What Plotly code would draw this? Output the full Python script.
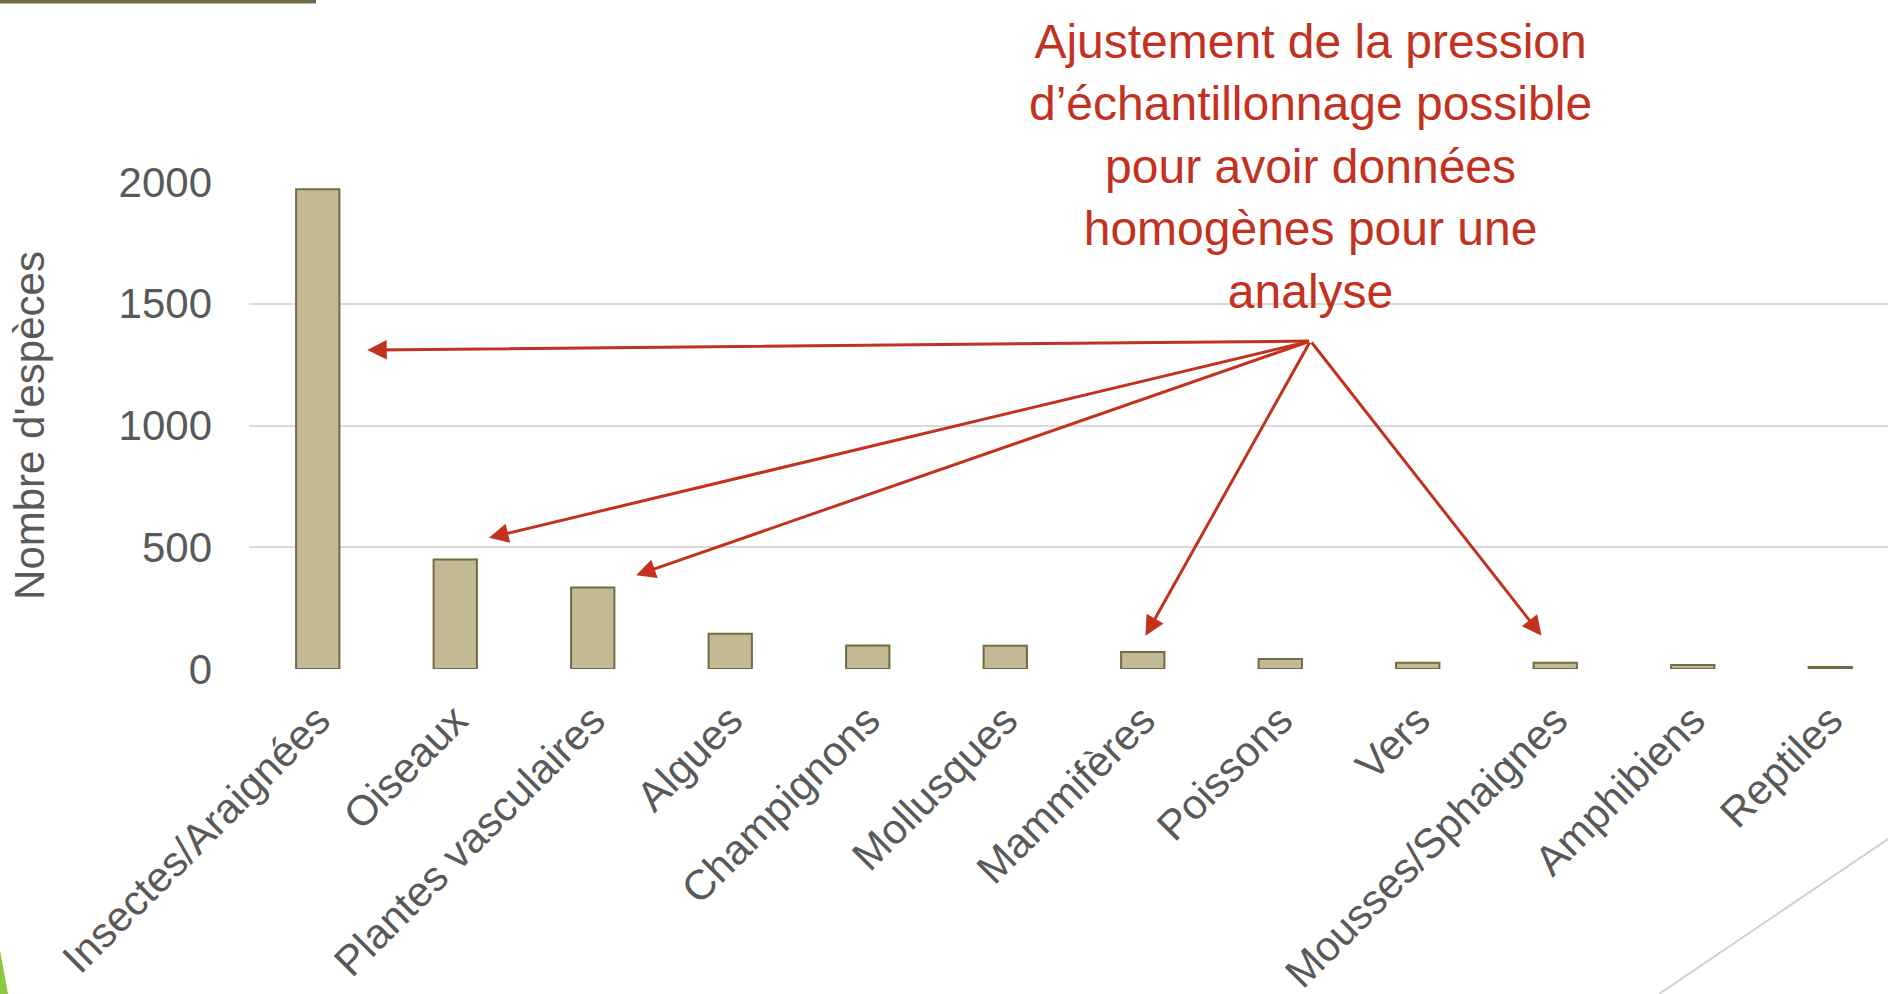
import plotly.graph_objects as go

categories = ["Insectes/Araignées", "Oiseaux", "Plantes vasculaires", "Algues",
              "Champignons", "Mollusques", "Mammifères", "Poissons", "Vers",
              "Mousses/Sphaignes", "Amphibiens", "Reptiles"]
species_counts = [1970, 450, 335, 145, 97, 95, 70, 41, 26, 26, 16, 8]
y_ticks = [0, 500, 1000, 1500, 2000]

annotation_text = ("Ajustement de la pression<br>d’échantillonnage possible<br>"
                   "pour avoir données<br>homogènes pour une<br>analyse")
# arrow origin and targets in data coordinates (category index, value)
arrow_origin = (7.22, 1347)
arrow_targets = [(0.36, 1310), (1.245, 539), (2.315, 385), (6.02, 137), (8.9, 137)]

W, H = 1888, 994
L, R, T, B = 249, 0, 182, 325
RED = "#C3311F"
GREY_TXT = "#595959"

fig = go.Figure()
fig.add_trace(go.Bar(
    x=list(range(len(categories))), y=species_counts,
    marker=dict(color="#C2B995", line=dict(color="#746A43", width=2)),
    width=0.315,
))

fig.update_layout(
    width=W, height=H,
    margin=dict(l=L, r=R, t=T, b=B, autoexpand=False),
    plot_bgcolor="white", paper_bgcolor="white",
    showlegend=False,
    font=dict(family="Liberation Sans, Arial, sans-serif", color=GREY_TXT, size=42),
    xaxis=dict(
        range=[-0.5, 11.42],
        tickmode="array", tickvals=list(range(len(categories))), ticktext=categories,
        tickangle=-45, showgrid=False, zeroline=False, showline=False,
        ticks="", ticklabelstandoff=17,
        tickfont=dict(size=42, color=GREY_TXT),
    ),
    yaxis=dict(
        range=[0, 2000], tickmode="array", tickvals=y_ticks,
        showgrid=True, gridcolor="#D9D9D9", gridwidth=2,
        zeroline=False, showline=False, ticks="",
        ticklabelstandoff=36,
        tickfont=dict(size=42, color=GREY_TXT),
        title=dict(text="Nombre d'espèces", standoff=60,
                   font=dict(size=42, color=GREY_TXT)),
    ),
)

# annotation text
fig.add_annotation(
    x=arrow_origin[0], y=1.032, xref="x", yref="paper",
    text=annotation_text, showarrow=False, align="center",
    xanchor="center", yanchor="middle",
    font=dict(family="Liberation Sans, Arial, sans-serif", size=48, color=RED),
)

# arrows
for tx, ty in arrow_targets:
    fig.add_annotation(
        x=tx, y=ty, ax=arrow_origin[0], ay=arrow_origin[1],
        xref="x", yref="y", axref="x", ayref="y",
        text="", showarrow=True, arrowhead=2, arrowsize=1.3,
        arrowwidth=3, arrowcolor=RED,
    )

# decorative elements (pixel -> paper conversion)
pw, ph = W - L - R, H - T - B
def px(xp):
    return (xp - L) / pw
def py(yp):
    return (H - B - yp) / ph

fig.add_shape(type="rect", xref="paper", yref="paper",
              x0=px(0), x1=px(316), y0=py(0), y1=py(3.5),
              fillcolor="#6E6A44", line=dict(width=0), layer="above")
fig.add_shape(type="path", xref="paper", yref="paper",
              path=f"M {px(0)},{py(950)} L {px(8)},{py(994)} L {px(0)},{py(994)} Z",
              fillcolor="#8DC63F", line=dict(width=0))
fig.add_shape(type="line", xref="paper", yref="paper",
              x0=px(1659), y0=py(994), x1=px(1888), y1=py(839),
              line=dict(color="#D0D0D0", width=2))

fig.write_html("out.html", config={"displayModeBar": False},
               post_script="document.body.style.margin='0px';document.body.style.overflow='hidden';")
